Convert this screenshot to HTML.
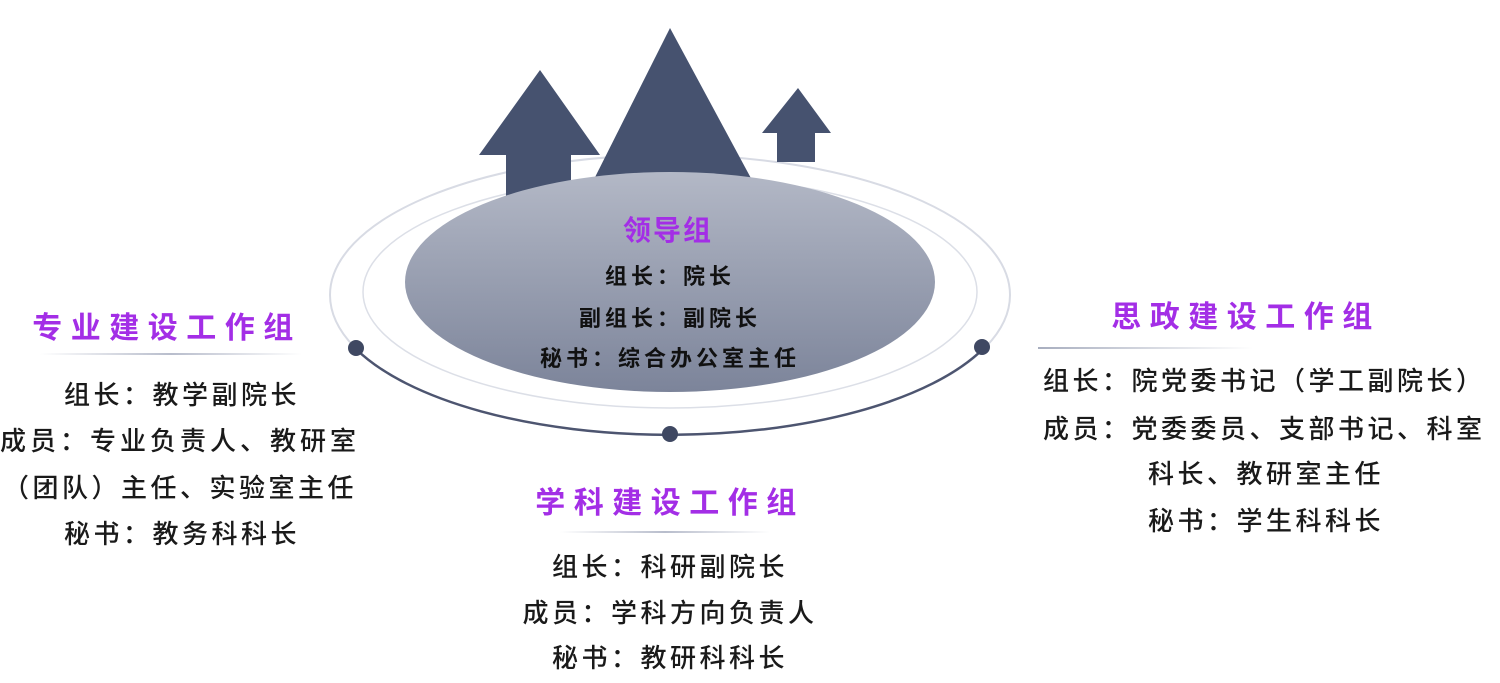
<!DOCTYPE html>
<html><head><meta charset="utf-8"><style>
html,body{margin:0;padding:0;background:#fff;width:1500px;height:683px;overflow:hidden}
svg{display:block}
text{font-family:"Liberation Sans","Noto Sans CJK SC",sans-serif}
.t{fill:#a32ee6;font-weight:bold;font-size:30px;letter-spacing:8.5px}
.b{fill:#1a1a1a;font-size:26px;letter-spacing:3.5px;font-weight:500}
.c{fill:#111;font-size:22px;letter-spacing:4px;font-weight:bold}
</style></head><body>
<svg width="1500" height="683" viewBox="0 0 1500 683">
<defs>
<linearGradient id="g" x1="0" y1="0" x2="0" y2="1">
<stop offset="0" stop-color="#b3b8c6"/><stop offset="1" stop-color="#7c849a"/>
</linearGradient>
<linearGradient id="ul" x1="0" x2="1"><stop offset="0" stop-color="#fff"/><stop offset="0.5" stop-color="#b8bdcc"/><stop offset="1" stop-color="#fff"/></linearGradient>
<linearGradient id="ur" x1="0" x2="1"><stop offset="0" stop-color="#a8aebf"/><stop offset="1" stop-color="#fff"/></linearGradient>
</defs>
<!-- rings -->
<ellipse cx="670" cy="295" rx="340" ry="140" fill="none" stroke="#d8dbe4" stroke-width="2"/>
<path d="M356,349 A340,140 0 0 0 983,349" fill="none" stroke="#4d5570" stroke-width="2.5"/>
<ellipse cx="670" cy="292" rx="307" ry="116" fill="none" stroke="#dcdfe7" stroke-width="1.5"/>
<!-- mountains -->
<g fill="#46526f">
<polygon points="540,70 479,155 506,155 506,215 571,215 571,155 600,155"/>
<polygon points="670,28 571,225 780,232"/>
<polygon points="798,88 762,133 777,133 777,162 815,162 815,133 831,133"/>
</g>
<ellipse cx="670" cy="282" rx="265" ry="110" fill="url(#g)"/>
<circle cx="356" cy="348" r="8" fill="#3f4862"/>
<circle cx="982" cy="347" r="8" fill="#3f4862"/>
<circle cx="670" cy="434" r="8" fill="#3f4862"/>
<!-- center text -->
<text x="668" y="240" text-anchor="middle" class="t" style="letter-spacing:2px;font-size:28px">领导组</text>
<text x="670" y="284" text-anchor="middle" class="c">组长：院长</text>
<text x="670" y="326" text-anchor="middle" class="c">副组长：副院长</text>
<text x="670" y="366" text-anchor="middle" class="c">秘书：综合办公室主任</text>
<!-- left -->
<text x="167" y="338" text-anchor="middle" class="t">专业建设工作组</text>
<rect x="40" y="353" width="262" height="2" fill="url(#ul)"/>
<text x="182" y="404" text-anchor="middle" class="b">组长：教学副院长</text>
<text x="180" y="450" text-anchor="middle" class="b" style="letter-spacing:4px">成员：专业负责人、教研室</text>
<text x="180" y="497" text-anchor="middle" class="b">（团队）主任、实验室主任</text>
<text x="182" y="543" text-anchor="middle" class="b">秘书：教务科科长</text>
<!-- bottom -->
<text x="670" y="513" text-anchor="middle" class="t">学科建设工作组</text>
<rect x="560" y="531" width="210" height="2" fill="url(#ul)"/>
<text x="670" y="576" text-anchor="middle" class="b">组长：科研副院长</text>
<text x="670" y="622" text-anchor="middle" class="b">成员：学科方向负责人</text>
<text x="670" y="667" text-anchor="middle" class="b">秘书：教研科科长</text>
<!-- right -->
<text x="1246" y="327" text-anchor="middle" class="t">思政建设工作组</text>
<rect x="1038" y="347" width="215" height="2" fill="url(#ur)"/>
<text x="1043" y="390" class="b">组长：院党委书记（学工副院长）</text>
<text x="1043" y="438" class="b">成员：党委委员、支部书记、科室</text>
<text x="1148" y="483" class="b">科长、教研室主任</text>
<text x="1148" y="530" class="b">秘书：学生科科长</text>
</svg>
</body></html>
